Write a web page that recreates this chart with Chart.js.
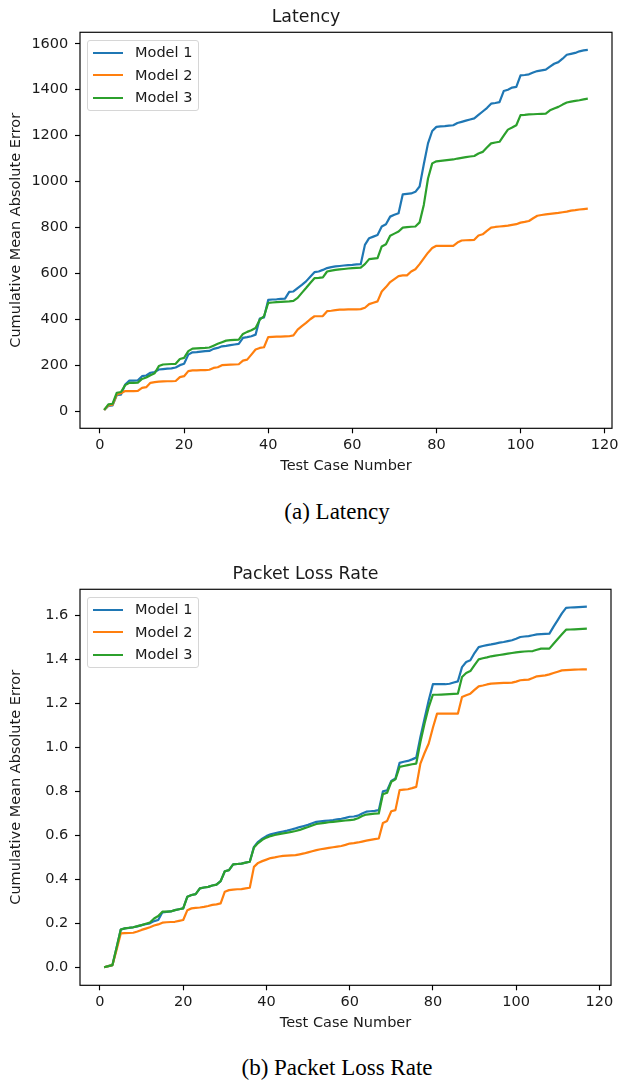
<!DOCTYPE html>
<html><head><meta charset="utf-8">
<script src="https://cdn.jsdelivr.net/npm/chart.js@4.4.1/dist/chart.umd.min.js"></script>
<style>
html,body{margin:0;padding:0;background:#fff;width:619px;height:1082px;overflow:hidden;}
.wrap{position:absolute;left:0;width:619px;height:480px;}
canvas{display:block;}
.cap{position:absolute;left:0;width:674px;text-align:center;font-family:"Liberation Serif","Times New Roman",serif;font-size:23px;line-height:26px;color:#000;}
.legend{position:absolute;left:87px;width:112px;height:71px;border:1px solid #d6d6d6;border-radius:3px;background:rgba(255,255,255,0.8);font-family:"DejaVu Sans",sans-serif;font-size:14.5px;color:#1a1a1a;box-sizing:border-box;}
.legend .sw{position:absolute;left:5px;width:30px;height:2.2px;}
.legend .lbl{position:absolute;left:47px;line-height:17px;height:17px;white-space:nowrap;}
</style>
</head><body>
<div class="wrap" style="top:0px"><canvas id="c1" width="619" height="480"></canvas></div>
<div class="legend" id="lg1" style="top:40px"></div>
<div class="cap" style="top:499px">(a) Latency</div>
<div class="wrap" style="top:557px"><canvas id="c2" width="619" height="480"></canvas></div>
<div class="legend" id="lg2" style="top:597px"></div>
<div class="cap" style="top:1055px">(b) Packet Loss Rate</div>
<script>
const seriesNames = ['Model 1', 'Model 2', 'Model 3'];
const seriesColors = ['#1f77b4', '#ff7f0e', '#2ca02c'];

// Test case numbers
const latencyCases = Array.from({length: 116}, (_, i) => i + 1);
const packetCases = Array.from({length: 117}, (_, i) => i + 1);

const xTicks = [0, 20, 40, 60, 80, 100, 120];
const latencyYTicks = [0, 200, 400, 600, 800, 1000, 1200, 1400, 1600];
const packetYTicks = [0, 0.2, 0.4, 0.6, 0.8, 1.0, 1.2, 1.4, 1.6];

const latencyModel1 = [5,22,25,70,72,116,133,133,134,152,
 155,167,170,181,183,185,186,190,200,206,
 246,256,257,259,261,262,271,275,282,284,
 287,290,293,319,322,326,333,403,408,484,
 486,487,489,490,519,521,536,550,565,585,
 605,608,615,623,627,630,632,634,636,637,
 639,640,724,753,760,767,804,814,847,855,
 862,944,946,948,955,978,1075,1166,1220,1238,
 1240,1241,1243,1245,1255,1260,1265,1270,1275,1290,
 1305,1320,1339,1342,1346,1394,1400,1409,1412,1462,
 1464,1467,1475,1481,1484,1487,1500,1513,1520,1535,
 1552,1556,1560,1567,1571,1573];
const latencyModel2 = [5,25,28,72,78,87,87,87,88,101,
 104,123,126,128,129,130,130,131,148,152,
 174,177,177,178,178,180,188,191,200,201,
 202,203,204,220,224,246,268,275,278,322,
 323,324,324,325,326,330,355,370,384,400,
 413,413,414,435,437,440,442,442,443,443,
 443,444,450,466,472,478,521,540,562,575,
 588,591,591,608,618,640,665,690,710,720,
 720,720,720,720,734,743,744,745,746,765,
 770,785,799,802,804,806,808,811,814,821,
 824,828,840,851,854,857,859,861,863,866,
 869,873,875,878,880,882];
const latencyModel3 = [5,29,32,80,83,113,123,123,124,140,
 146,156,165,196,203,204,205,206,227,232,
 261,272,273,274,275,277,285,293,300,307,
 309,310,311,336,345,352,362,398,413,471,
 473,475,476,477,478,480,493,515,536,558,
 579,580,582,608,612,615,617,619,621,623,
 624,625,640,662,664,666,717,727,764,773,
 782,799,801,803,804,822,898,1013,1079,1088,
 1090,1092,1094,1096,1100,1103,1106,1109,1111,1122,
 1129,1148,1166,1170,1173,1200,1226,1235,1245,1289,
 1290,1292,1293,1294,1295,1296,1310,1318,1325,1335,
 1344,1348,1351,1354,1358,1361];

const packetModel1 = [0,0.005,0.01,0.09,0.172,0.177,0.179,0.182,0.186,0.192,
 0.196,0.2,0.21,0.215,0.25,0.252,0.254,0.26,0.264,0.268,
 0.321,0.329,0.333,0.359,0.363,0.366,0.372,0.376,0.392,0.437,
 0.442,0.468,0.47,0.472,0.476,0.48,0.548,0.571,0.585,0.597,
 0.605,0.61,0.614,0.618,0.622,0.627,0.632,0.638,0.643,0.648,
 0.655,0.662,0.664,0.666,0.668,0.67,0.673,0.676,0.68,0.685,
 0.686,0.69,0.7,0.708,0.71,0.712,0.715,0.801,0.805,0.848,
 0.859,0.93,0.935,0.939,0.946,0.954,1.048,1.132,1.215,1.288,
 1.288,1.288,1.288,1.29,1.296,1.301,1.366,1.389,1.397,1.43,
 1.457,1.462,1.466,1.469,1.473,1.477,1.48,1.484,1.488,1.495,
 1.503,1.505,1.507,1.511,1.515,1.516,1.517,1.518,1.55,1.58,
 1.61,1.635,1.637,1.638,1.639,1.64,1.641];
const packetModel2 = [0,0.005,0.01,0.08,0.154,0.155,0.156,0.157,0.163,0.17,
 0.176,0.182,0.19,0.195,0.203,0.205,0.206,0.207,0.211,0.215,
 0.26,0.268,0.27,0.272,0.275,0.279,0.284,0.286,0.291,0.344,
 0.351,0.353,0.355,0.356,0.359,0.362,0.457,0.475,0.483,0.49,
 0.497,0.5,0.504,0.507,0.508,0.509,0.51,0.514,0.518,0.523,
 0.528,0.533,0.537,0.54,0.543,0.546,0.549,0.552,0.557,0.563,
 0.565,0.568,0.572,0.576,0.58,0.583,0.586,0.657,0.666,0.71,
 0.715,0.806,0.808,0.81,0.815,0.821,0.927,0.975,1.018,1.09,
 1.154,1.154,1.154,1.154,1.154,1.154,1.23,1.238,1.245,1.262,
 1.278,1.282,1.287,1.291,1.292,1.293,1.294,1.294,1.295,1.3,
 1.306,1.308,1.309,1.316,1.324,1.326,1.328,1.333,1.339,1.345,
 1.351,1.352,1.353,1.354,1.355,1.356,1.356];
const packetModel3 = [0,0.005,0.01,0.09,0.172,0.177,0.18,0.182,0.187,0.192,
 0.198,0.204,0.222,0.233,0.253,0.253,0.254,0.26,0.264,0.268,
 0.321,0.329,0.333,0.359,0.363,0.366,0.372,0.376,0.392,0.437,
 0.442,0.468,0.47,0.472,0.476,0.48,0.545,0.565,0.58,0.59,
 0.597,0.602,0.606,0.609,0.612,0.616,0.62,0.625,0.632,0.638,
 0.645,0.652,0.655,0.657,0.66,0.662,0.664,0.666,0.668,0.67,
 0.672,0.678,0.688,0.695,0.697,0.699,0.7,0.788,0.794,0.844,
 0.855,0.912,0.916,0.92,0.924,0.927,1.025,1.109,1.184,1.24,
 1.24,1.241,1.242,1.243,1.244,1.245,1.321,1.339,1.348,1.375,
 1.401,1.406,1.41,1.415,1.418,1.421,1.424,1.427,1.43,1.433,
 1.435,1.437,1.438,1.439,1.445,1.45,1.45,1.45,1.472,1.494,
 1.515,1.536,1.537,1.538,1.539,1.54,1.541];

const FONT = '"DejaVu Sans", sans-serif';
const TXT = '#1a1a1a';

const framePlugin = {
  id: 'frame',
  afterDatasetsDraw(chart) {
    const {ctx, chartArea: a} = chart;
    ctx.save();
    ctx.strokeStyle = '#000';
    ctx.lineWidth = 1.16;
    ctx.strokeRect(a.left, a.top, a.right - a.left, a.bottom - a.top);
    ctx.restore();
  }
};

function buildLegend(id) {
  const el = document.getElementById(id);
  const centers = [11.7, 34.2, 56.7];
  seriesNames.forEach((n, k) => {
    const sw = document.createElement('div');
    sw.className = 'sw';
    sw.style.top = (centers[k] - 1.1) + 'px';
    sw.style.background = seriesColors[k];
    el.appendChild(sw);
    const lb = document.createElement('div');
    lb.className = 'lbl';
    lb.style.top = (centers[k] - 8.5) + 'px';
    lb.textContent = n;
    el.appendChild(lb);
  });
}

function makeChart(id, title, cases, series, xr, yr, yTicks, fmt, rightPad) {
  return new Chart(document.getElementById(id), {
    type: 'line',
    data: {
      labels: cases,
      datasets: series.map((s, k) => ({
        label: seriesNames[k],
        data: s,
        borderColor: seriesColors[k],
        backgroundColor: seriesColors[k],
        borderWidth: 2.2,
        pointRadius: 0,
        pointHoverRadius: 0,
        tension: 0,
        fill: false,
        borderJoinStyle: 'round',
        order: 2 - k
      }))
    },
    options: {
      responsive: false,
      animation: false,
      devicePixelRatio: 1,
      events: [],
      layout: {padding: {left: 0, right: rightPad, top: 0, bottom: 0}},
      plugins: {
        legend: {display: false},
        tooltip: {enabled: false},
        title: {
          display: true, text: title, color: TXT,
          font: {family: FONT, size: 17.4, weight: 'normal'},
          padding: {top: 6.9, bottom: 4.5}
        }
      },
      scales: {
        x: {
          type: 'linear', min: xr[0], max: xr[1],
          afterBuildTicks: s => { s.ticks = xTicks.map(v => ({value: v})); },
          afterFit: s => { s.height = 51.7; s.paddingLeft = 0; s.paddingRight = 0; },
          grid: {drawOnChartArea: false, drawTicks: true, tickLength: 5, tickWidth: 1.16, tickColor: '#000'},
          border: {display: false},
          ticks: {font: {family: FONT, size: 14.5}, color: TXT, padding: 3, maxRotation: 0, autoSkip: false},
          title: {display: true, text: 'Test Case Number', color: TXT, font: {family: FONT, size: 14.5}, padding: {top: 0, bottom: 5.3}}
        },
        y: {
          type: 'linear', min: yr[0], max: yr[1],
          afterBuildTicks: s => { s.ticks = yTicks.map(v => ({value: v})); },
          afterFit: s => { s.width = 80; s.paddingTop = 0; s.paddingBottom = 0; },
          grid: {drawOnChartArea: false, drawTicks: true, tickLength: 5, tickWidth: 1.16, tickColor: '#000'},
          border: {display: false},
          ticks: {font: {family: FONT, size: 14.5}, color: TXT, padding: 6.7, callback: v => fmt(v)},
          title: {display: true, text: 'Cumulative Mean Absolute Error', color: TXT, font: {family: FONT, size: 14.5}, padding: {top: 7.3, bottom: 0}}
        }
      }
    },
    plugins: [framePlugin]
  });
}

makeChart('c1', 'Latency', latencyCases, [latencyModel1, latencyModel2, latencyModel3],
  [-4.75, 121.75], [-75, 1650], latencyYTicks, v => String(Math.round(v)), 7);
makeChart('c2', 'Packet Loss Rate', packetCases, [packetModel1, packetModel2, packetModel3],
  [-4.8, 122.8], [-0.082, 1.72], packetYTicks, v => Number(v).toFixed(1), 8);
buildLegend('lg1');
buildLegend('lg2');
</script>
</body></html>
